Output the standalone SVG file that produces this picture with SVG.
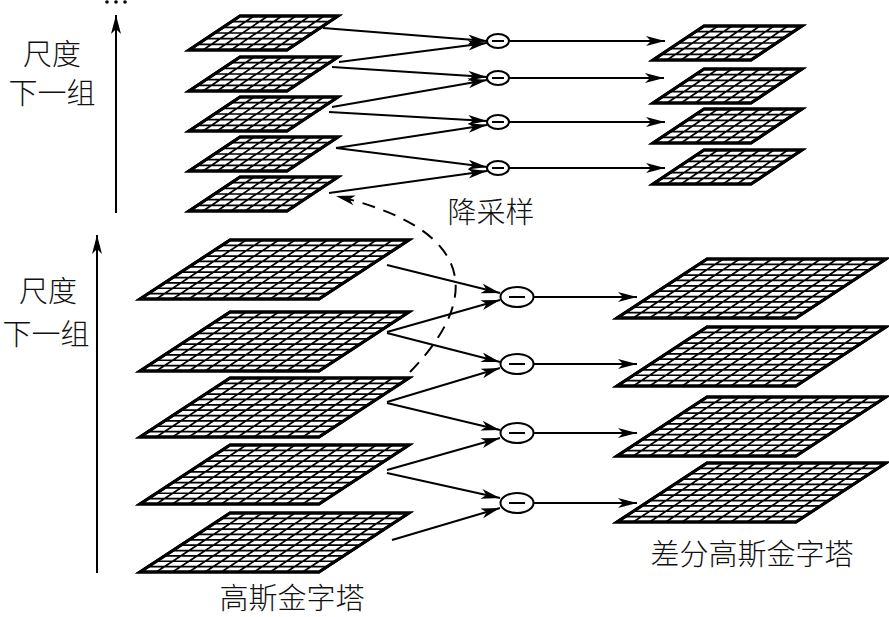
<svg xmlns="http://www.w3.org/2000/svg" xmlns:xlink="http://www.w3.org/1999/xlink" width="889" height="617" viewBox="0 0 889 617">
<style>
.gin{fill:none;stroke:#000;stroke-width:1.7}
.gout{fill:#fff;stroke:#000;stroke-width:3;stroke-linejoin:miter}
.ln{fill:none;stroke:#000;stroke-width:2}
.op{fill:#fff;stroke:#000;stroke-width:2}
.dash{fill:none;stroke:#000;stroke-width:2;stroke-dasharray:13 9}
.lbl{font-family:"Noto Sans CJK SC","Noto Sans CJK JP",sans-serif;font-size:29px;font-weight:300;fill:#111;text-anchor:middle}
</style>
<defs>
<marker id="ah" markerUnits="userSpaceOnUse" markerWidth="20" markerHeight="12" refX="19" refY="5" orient="auto">
<path d="M0,0 L19,5 L0,10 L5,5 Z" fill="#000"/>
</marker>
<g id="gs">
<path class="gout" d="M51,0 H149 L98,34 H0 Z"/>
<path class="gin" d="M42.5,5.67H140.5M34,11.33H132M25.5,17H123.5M17,22.67H115M8.5,28.33H106.5M65,0L14,34M79,0L28,34M93,0L42,34M107,0L56,34M121,0L70,34M135,0L84,34"/>
<path d="M51,0 H149 L98,34 H0 Z" fill="none" stroke="#000" stroke-width="3"/>
</g>
<g id="gl">
<path class="gout" d="M90,0 H269 L179,59 H0 Z"/>
<path class="gin" d="M81.82,5.36H260.82M73.64,10.73H252.64M65.45,16.09H244.45M57.27,21.45H236.27M49.09,26.82H228.09M40.91,32.18H219.91M32.73,37.55H211.73M24.55,42.91H203.55M16.36,48.27H195.36M8.18,53.64H187.18M106.27,0L16.27,59M122.55,0L32.55,59M138.82,0L48.82,59M155.09,0L65.09,59M171.36,0L81.36,59M187.64,0L97.64,59M203.91,0L113.91,59M220.18,0L130.18,59M236.45,0L146.45,59M252.73,0L162.73,59"/>
<path d="M90,0 H269 L179,59 H0 Z" fill="none" stroke="#000" stroke-width="3"/>
</g>
</defs>
<rect width="889" height="617" fill="#fff"/>

<g id="dots">
<circle cx="107" cy="2" r="1.8"/><circle cx="116" cy="2" r="1.8"/><circle cx="125" cy="2" r="1.8"/>
</g>

<g id="top-gauss">
<use id="tg1" xlink:href="#gs" x="189" y="16"/>
<use id="tg2" xlink:href="#gs" x="189" y="57"/>
<use id="tg3" xlink:href="#gs" x="189" y="97"/>
<use id="tg4" xlink:href="#gs" x="189" y="137"/>
<use id="tg5" xlink:href="#gs" x="189" y="177"/>
</g>
<g id="top-dog">
<use id="td1" xlink:href="#gs" x="653" y="26"/>
<use id="td2" xlink:href="#gs" x="653" y="69"/>
<use id="td3" xlink:href="#gs" x="653" y="109"/>
<use id="td4" xlink:href="#gs" x="653" y="150"/>
</g>
<g id="bottom-gauss">
<use id="bg1" xlink:href="#gl" x="140" y="240"/>
<use id="bg2" xlink:href="#gl" x="140" y="312"/>
<use id="bg3" xlink:href="#gl" x="140" y="378"/>
<use id="bg4" xlink:href="#gl" x="140" y="445"/>
<use id="bg5" xlink:href="#gl" x="140" y="513"/>
</g>
<g id="bottom-dog">
<use id="bd1" xlink:href="#gl" x="617" y="259"/>
<use id="bd2" xlink:href="#gl" x="617" y="327"/>
<use id="bd3" xlink:href="#gl" x="617" y="397"/>
<use id="bd4" xlink:href="#gl" x="617" y="463"/>
</g>

<g id="connectors">
<line class="ln" x1="116" y1="213" x2="116" y2="15" marker-end="url(#ah)"/>
<line class="ln" x1="97" y1="573" x2="97" y2="235" marker-end="url(#ah)"/>

<line class="ln" x1="323" y1="28" x2="487" y2="41" marker-end="url(#ah)"/>
<line class="ln" x1="339" y1="62" x2="487" y2="43" marker-end="url(#ah)"/>
<line class="ln" x1="332" y1="67" x2="487" y2="77" marker-end="url(#ah)"/>
<line class="ln" x1="332" y1="107" x2="487" y2="80" marker-end="url(#ah)"/>
<line class="ln" x1="329" y1="112" x2="487" y2="121" marker-end="url(#ah)"/>
<line class="ln" x1="336" y1="148" x2="487" y2="125" marker-end="url(#ah)"/>
<line class="ln" x1="336" y1="148" x2="487" y2="167" marker-end="url(#ah)"/>
<line class="ln" x1="329" y1="193" x2="487" y2="171" marker-end="url(#ah)"/>

<line class="ln" x1="509" y1="41" x2="665" y2="41" marker-end="url(#ah)"/>
<line class="ln" x1="509" y1="78" x2="664" y2="78" marker-end="url(#ah)"/>
<line class="ln" x1="509" y1="122" x2="665" y2="122" marker-end="url(#ah)"/>
<line class="ln" x1="509" y1="168" x2="665" y2="168" marker-end="url(#ah)"/>

<line class="ln" x1="387" y1="265" x2="500" y2="293" marker-end="url(#ah)"/>
<line class="ln" x1="387" y1="332" x2="500" y2="300" marker-end="url(#ah)"/>
<line class="ln" x1="387" y1="333" x2="500" y2="362" marker-end="url(#ah)"/>
<line class="ln" x1="387" y1="402" x2="500" y2="368" marker-end="url(#ah)"/>
<line class="ln" x1="387" y1="403" x2="500" y2="430" marker-end="url(#ah)"/>
<line class="ln" x1="387" y1="470" x2="500" y2="438" marker-end="url(#ah)"/>
<line class="ln" x1="387" y1="473" x2="500" y2="498" marker-end="url(#ah)"/>
<line class="ln" x1="392" y1="540" x2="500" y2="508" marker-end="url(#ah)"/>

<line class="ln" x1="534" y1="297" x2="637" y2="297" marker-end="url(#ah)"/>
<line class="ln" x1="534" y1="364" x2="637" y2="364" marker-end="url(#ah)"/>
<line class="ln" x1="534" y1="433" x2="637" y2="433" marker-end="url(#ah)"/>
<line class="ln" x1="534" y1="503" x2="637" y2="503" marker-end="url(#ah)"/>

<path class="dash" d="M410,372 C480,300 480,230 336,196" marker-end="url(#ah)"/>
</g>

<g id="top-ops">
<g id="to1"><ellipse class="op" cx="498" cy="41" rx="11" ry="7"/><line class="ln" x1="492" y1="41" x2="504" y2="41"/></g>
<g id="to2"><ellipse class="op" cx="498" cy="78" rx="11" ry="7"/><line class="ln" x1="492" y1="78" x2="504" y2="78"/></g>
<g id="to3"><ellipse class="op" cx="498" cy="122" rx="11" ry="7"/><line class="ln" x1="492" y1="122" x2="504" y2="122"/></g>
<g id="to4"><ellipse class="op" cx="498" cy="168" rx="11" ry="7"/><line class="ln" x1="492" y1="168" x2="504" y2="168"/></g>
</g>
<g id="bottom-ops">
<g id="bo1"><ellipse class="op" cx="517" cy="297" rx="16.5" ry="10"/><line class="ln" x1="509" y1="297" x2="525" y2="297"/></g>
<g id="bo2"><ellipse class="op" cx="517" cy="364" rx="16.5" ry="10"/><line class="ln" x1="509" y1="364" x2="525" y2="364"/></g>
<g id="bo3"><ellipse class="op" cx="517" cy="433" rx="16.5" ry="10"/><line class="ln" x1="509" y1="433" x2="525" y2="433"/></g>
<g id="bo4"><ellipse class="op" cx="517" cy="503" rx="16.5" ry="10"/><line class="ln" x1="509" y1="503" x2="525" y2="503"/></g>
</g>

<g id="labels">
<text class="lbl" x="52" y="65">尺度</text>
<text class="lbl" x="52" y="104">下一组</text>
<text class="lbl" x="48" y="302">尺度</text>
<text class="lbl" x="46" y="345">下一组</text>
<text class="lbl" x="491" y="223">降采样</text>
<text class="lbl" x="292" y="609">高斯金字塔</text>
<text class="lbl" x="752" y="565">差分高斯金字塔</text>
</g>
</svg>
